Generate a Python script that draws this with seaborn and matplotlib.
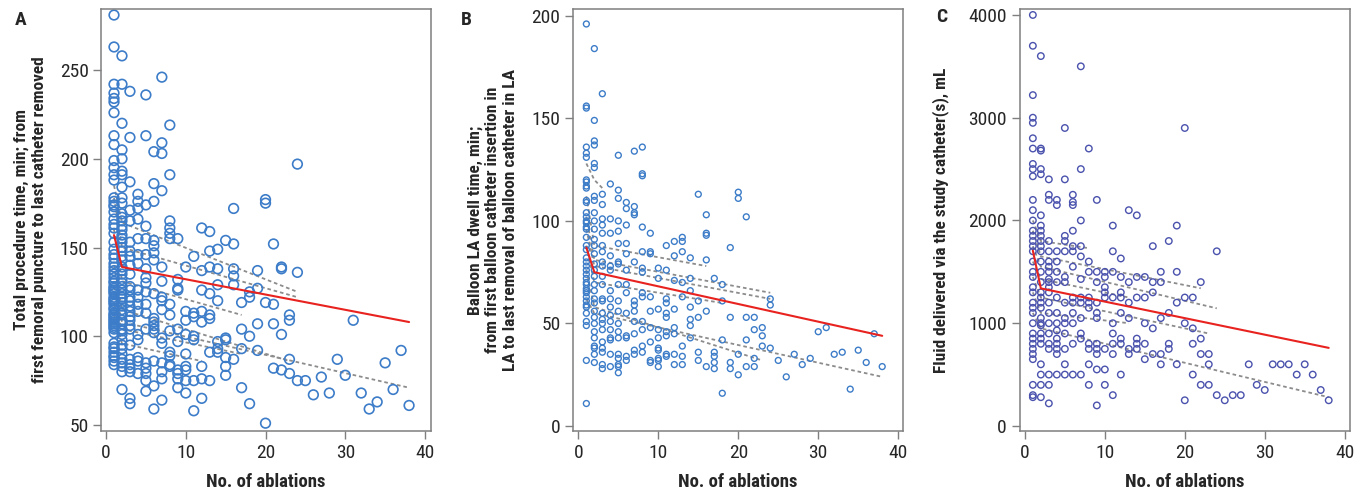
import matplotlib
matplotlib.use("Agg")
import matplotlib.pyplot as plt
from matplotlib import font_manager
import seaborn as sns
import pandas as pd

# ---- data: (no. of ablations, [values]) ----
a_columns = [
    (1, [281, 263, 242, 237, 234, 232, 226, 213, 208, 199, 195, 191, 188, 178, 176, 174, 173, 170, 166, 163, 161,
         158, 153, 149, 146, 144, 141, 139, 137, 135, 133, 131, 130, 128, 127, 126, 125, 124, 122, 121, 120, 119,
         118, 116, 115, 113, 112, 111, 110, 109, 108, 107, 106, 105, 104, 102, 96, 94, 93, 91, 89, 88, 86, 84]),
    (2, [258, 242, 220, 205, 200, 193, 191, 184, 178, 175, 169, 167, 165, 162, 160, 157, 155, 153, 150, 148, 145,
         143, 139, 137, 135, 132, 130, 128, 126, 124, 122, 121, 119, 117, 115, 113, 112, 109, 107, 104, 103, 101,
         98, 95, 93, 90, 87, 85, 83, 80, 70]),
    (3, [238, 212, 187, 171, 165, 153, 148, 145, 140, 135, 128, 126, 122, 120, 117, 114, 111, 109, 106, 104, 95,
         87, 84, 82, 80, 65, 62]),
    (4, [180, 176, 172, 166, 155, 146, 141, 126, 122, 118, 114, 101, 98, 88, 86, 79]),
    (5, [236, 213, 174, 162, 155, 146, 138, 133, 130, 125, 118, 113, 104, 85, 82, 79, 75, 69]),
    (6, [204, 186, 176, 154, 151, 147, 143, 124, 110, 108, 106, 104, 102, 86, 72, 59]),
    (7, [246, 209, 203, 182, 139, 131, 122, 120, 115, 99, 96, 85, 80, 76, 64]),
    (8, [219, 191, 165, 161, 158, 155, 118, 112, 103, 91, 89, 84, 83]),
    (9, [155, 132, 127, 126, 104, 97, 81, 79, 76, 71]),
    (10, [139, 114, 109, 101, 90, 83, 81, 75, 68]),
    (11, [145, 113, 111, 100, 98, 75, 58]),
    (12, [161, 137, 126, 114, 108, 83, 76, 65]),
    (13, [159, 148, 139, 124, 112, 110, 91, 75]),
    (14, [149, 138, 129, 120, 97, 93, 91]),
    (15, [154, 99, 98, 88, 83, 78]),
    (16, [172, 152, 138, 134, 129, 87]),
    (17, [119, 104, 93, 71]),
    (18, [125, 122, 100, 62]),
    (19, [137, 127, 107, 92]),
    (20, [177, 175, 119, 51]),
    (21, [152, 118, 107, 82]),
    (22, [139, 138, 101, 81]),
    (23, [112, 109, 87, 79]),
    (24, [197, 136, 75]),
    (25, [75]), (26, [67]), (27, [77]), (28, [68]), (29, [87]), (30, [78]), (31, [109]),
    (32, [68]), (33, [59]), (34, [63]), (35, [85]), (36, [70]), (37, [92]), (38, [61]),
]

b_columns = [
    (1, [196, 156, 155, 136, 133, 131, 120, 119, 117, 116, 110, 109, 104, 102, 100, 99, 97, 96, 92, 88, 86, 82,
         80, 78, 76, 74, 72, 70, 69, 67, 66, 65, 63, 61, 59, 58, 55, 51, 49, 32, 11]),
    (2, [184, 149, 139, 137, 128, 126, 112, 110, 104, 100, 96, 91, 88, 84, 79, 76, 73, 69, 66, 62, 60, 56, 53, 50,
         46, 43, 39, 38, 35, 31]),
    (3, [162, 113, 108, 101, 98, 94, 88, 85, 80, 78, 73, 69, 62, 61, 55, 52, 50, 47, 41, 38, 36, 30, 28]),
    (4, [118, 101, 94, 83, 78, 76, 66, 62, 58, 54, 51, 47, 43, 42, 35, 29]),
    (5, [132, 115, 111, 100, 95, 89, 80, 79, 69, 61, 56, 50, 46, 43, 35, 33, 30, 29, 26]),
    (6, [109, 106, 98, 89, 84, 76, 69, 65, 55, 44, 43, 34, 32]),
    (7, [134, 107, 104, 103, 80, 61, 59, 56, 51, 45, 37, 35]),
    (8, [136, 123, 122, 97, 85, 77, 75, 65, 63, 51, 47, 39, 36]),
    (9, [94, 85, 84, 63, 56, 48, 41, 32, 31]),
    (10, [77, 72, 57, 47, 43, 38, 37, 33, 32, 29]),
    (11, [88, 76, 62, 60, 55, 53, 46, 44, 35, 34]),
    (12, [90, 83, 71, 57, 48, 45, 35, 30]),
    (13, [92, 90, 85, 70, 63, 39, 34, 30]),
    (14, [82, 72, 66, 58, 52, 49, 43]),
    (15, [113, 61, 53, 36, 32]),
    (16, [103, 94, 93, 81, 56, 29]),
    (17, [72, 36, 34, 31, 28]),
    (18, [69, 61, 42, 16]),
    (19, [87, 53, 31, 28]),
    (20, [114, 111, 35, 25]),
    (21, [102, 53, 42, 29]),
    (22, [53, 47, 33, 29]),
    (23, [48, 44, 39]),
    (24, [62, 59, 38]),
    (25, [32]), (26, [24]), (27, [35]), (28, [30]), (29, [33]), (30, [46]), (31, [48]),
    (32, [35]), (33, [36]), (34, [18]), (35, [37]), (36, [31]), (37, [45]), (38, [29]),
]

c_columns = [
    (1, [4000, 3700, 3220, 3000, 2950, 2800, 2700, 2550, 2500, 2430, 2200, 2100, 2000, 1900, 1850, 1800, 1750,
         1700, 1600, 1500, 1450, 1350, 1300, 1200, 1150, 1100, 1000, 900, 850, 800, 750, 700, 650, 400, 300, 280]),
    (2, [3600, 2700, 2680, 2500, 2450, 2050, 1950, 1900, 1850, 1800, 1750, 1700, 1600, 1500, 1400, 1300, 1250,
         1200, 1150, 1050, 1000, 980, 900, 850, 800, 600, 500, 400, 280]),
    (3, [2400, 2250, 2200, 1800, 1700, 1600, 1550, 1500, 1430, 1400, 1350, 1300, 1200, 1100, 1000, 900, 800, 750,
         500, 400, 220]),
    (4, [2200, 2150, 1700, 1600, 1500, 1400, 1250, 1100, 1000, 930, 850, 800, 750, 700, 500]),
    (5, [2900, 2400, 1850, 1800, 1700, 1450, 1400, 1200, 1050, 1000, 900, 750, 600, 500]),
    (6, [2250, 2180, 2150, 1900, 1750, 1700, 1550, 1250, 1200, 1100, 1000, 800, 500]),
    (7, [3500, 2500, 2000, 1750, 1650, 1430, 1250, 1200, 1050, 900, 850, 500]),
    (8, [2700, 1600, 1500, 1250, 1200, 1150, 800, 750, 600, 400]),
    (9, [2200, 1500, 1400, 1200, 1100, 1050, 800, 750, 700, 550, 200]),
    (10, [1500, 1450, 1350, 1300, 1250, 750, 550, 400]),
    (11, [1950, 1700, 1500, 1250, 1000, 900, 800, 700, 300]),
    (12, [1630, 1450, 1300, 1250, 1100, 850, 800, 500]),
    (13, [2100, 1400, 1200, 1050, 750, 700]),
    (14, [2050, 1450, 1250, 850, 800, 750]),
    (15, [1450, 1250, 1000, 800, 650]),
    (16, [1750, 1400, 1300, 950, 700]),
    (17, [1500, 1400, 1050, 700, 600]),
    (18, [1800, 1100, 800, 750]),
    (19, [1950, 1500, 1200, 600]),
    (20, [2900, 1250, 1000, 250]),
    (21, [1250, 950, 800, 500]),
    (22, [1400, 850, 700, 400]),
    (23, [700, 600, 400]),
    (24, [1700, 300]),
    (25, [250]), (26, [300]), (27, [300]), (28, [600]), (29, [400]), (30, [350]), (31, [600]),
    (32, [600]), (33, [600]), (34, [500]), (35, [600]), (36, [500]), (37, [350]), (38, [250]),
]

# overall fit (red): value at 1 and 2 ablations, then straight to 38
a_fit = [157, 139, 108]
b_fit = [87, 75, 44]
c_fit = [1706, 1339, 760]
fit_x = [1, 2, 38]

# per-group fits (grey dotted): value at 1, at 2, last x, value at last x
a_groups_y1 = [185, 178, 160, 140, 128, 118, 112]
a_groups_y2 = [164, 150, 131, 115, 108, 104, 96]
a_groups_xend = [24, 24, 17, 23, 38, 17, 12]
a_groups_yend = [125, 122, 112, 86, 71, 90, 86]

b_groups_y1 = [128, 112, 102, 96, 88, 76, 62]
b_groups_y2 = [120, 88, 81, 78, 70, 58, 55]
b_groups_xend = [3, 16, 24, 24, 18, 23, 38]
b_groups_yend = [116, 78, 65, 62, 60, 32, 24]

c_groups_y1 = [2000, 1900, 1750, 1600, 1450, 1300, 1100]
c_groups_y2 = [1800, 1650, 1550, 1430, 1250, 1100, 950]
c_groups_xend = [8, 22, 24, 13, 23, 13, 38]
c_groups_yend = [1730, 1340, 1145, 1250, 900, 1000, 280]

panels = [
    dict(letter="A", columns=a_columns, fit=a_fit,
         groups=(a_groups_y1, a_groups_y2, a_groups_xend, a_groups_yend),
         ylabel="Total procedure time, min; from\nfirst femoral puncture to last catheter removed",
         yticks=[50, 100, 150, 200, 250], ylim=(46.6, 284.4), xlim=(-0.63, 40.75),
         color="#3c7cc8", s=48, lw=1.2, left=101, ylab_x=-0.164),
    dict(letter="B", columns=b_columns, fit=b_fit,
         groups=(b_groups_y1, b_groups_y2, b_groups_xend, b_groups_yend),
         ylabel="Balloon LA dwell time, min;\nfrom first balloon catheter insertion in\nLA to last removal of balloon catheter in LA",
         yticks=[0, 50, 100, 150, 200], ylim=(-2.4, 203.3), xlim=(-0.67, 40.6),
         color="#3c7cc8", s=18, lw=1.0, left=573, ylab_x=-0.168),
    dict(letter="C", columns=c_columns, fit=c_fit,
         groups=(c_groups_y1, c_groups_y2, c_groups_xend, c_groups_yend),
         ylabel="Fluid delivered via the study catheter(s), mL",
         yticks=[0, 1000, 2000, 3000, 4000], ylim=(-49, 4058), xlim=(-0.67, 40.6),
         color="#4a52ad", s=22, lw=1.0, left=1019.5, ylab_x=-0.215),
]

sns.set_theme(style="white")

# the original uses a condensed sans; take one if the machine has it (one that has a bold face)
names = sorted({f.name for f in font_manager.fontManager.ttflist})
preferred = ["Roboto Condensed", "Liberation Sans Narrow", "Open Sans Condensed", "Noto Sans Condensed",
             "DejaVu Sans Condensed"]
narrow = [n for n in preferred if n in names]
if not narrow:
    narrow = sorted([n for n in names if ("Narrow" in n or "Condensed" in n)
                     and not any(w in n for w in ("Light", "Thin", "ExtraLight", "Medium", "Black"))], key=len)
if narrow:
    family = narrow[0]
    tick_fs, xlab_fs, ylab_fs, letter_fs = 14, 13.5, 12.5, 14
else:
    family = "Liberation Sans"
    tick_fs, xlab_fs, ylab_fs, letter_fs = 12, 12, 9.8, 13
plt.rcParams['font.family'] = [family, 'DejaVu Sans']

W, H = 1367, 495
fig = plt.figure(figsize=(W / 100, H / 100), dpi=100)
grey = "#7f7f7f"

for p in panels:
    ax = fig.add_axes([p["left"] / W, 1 - 431 / H, 330 / W, 422 / H])
    xs, ys = [], []
    for x, vals in p["columns"]:
        xs += [x] * len(vals)
        ys += vals
    df = pd.DataFrame({"n": xs, "v": ys})

    # grey dotted per-group fits
    y1s, y2s, xe, ye = p["groups"]
    for k in range(len(y1s)):
        ax.plot([1, 2, xe[k]], [y1s[k], y2s[k], ye[k]], color="#8c8c8c", lw=1.3,
                ls=(0, (2, 1.6)), zorder=1)

    sns.scatterplot(data=df, x="n", y="v", ax=ax, marker="o", s=p["s"],
                    facecolor="none", edgecolor=p["color"], linewidth=p["lw"], zorder=2)

    ax.plot(fit_x, p["fit"], color="#e8231f", lw=1.5, zorder=3)

    ax.set_xlim(*p["xlim"])
    ax.set_ylim(*p["ylim"])
    ax.set_xticks([0, 10, 20, 30, 40])
    ax.set_yticks(p["yticks"])
    ax.tick_params(axis="both", which="major", direction="out", length=6, width=1,
                   color=grey, labelsize=tick_fs, pad=3, bottom=True, left=True)
    for sp in ax.spines.values():
        sp.set_color(grey)
        sp.set_linewidth(1.1)
    ax.set_xlabel("No. of ablations", fontsize=xlab_fs, fontweight="bold")
    ax.xaxis.set_label_coords(0.5, -0.1)
    ax.set_ylabel(p["ylabel"], fontsize=ylab_fs, fontweight="bold", linespacing=1.2)
    ax.yaxis.set_label_coords(p["ylab_x"], 0.5)

fig.text(15 / W, 1 - 20 / H, "A", fontsize=letter_fs, fontweight="bold", va="center", ha="left")
fig.text(461 / W, 1 - 20 / H, "B", fontsize=letter_fs, fontweight="bold", va="center", ha="left")
fig.text(936 / W, 1 - 17 / H, "C", fontsize=letter_fs, fontweight="bold", va="center", ha="left")

fig.savefig("out.png", dpi=100)
